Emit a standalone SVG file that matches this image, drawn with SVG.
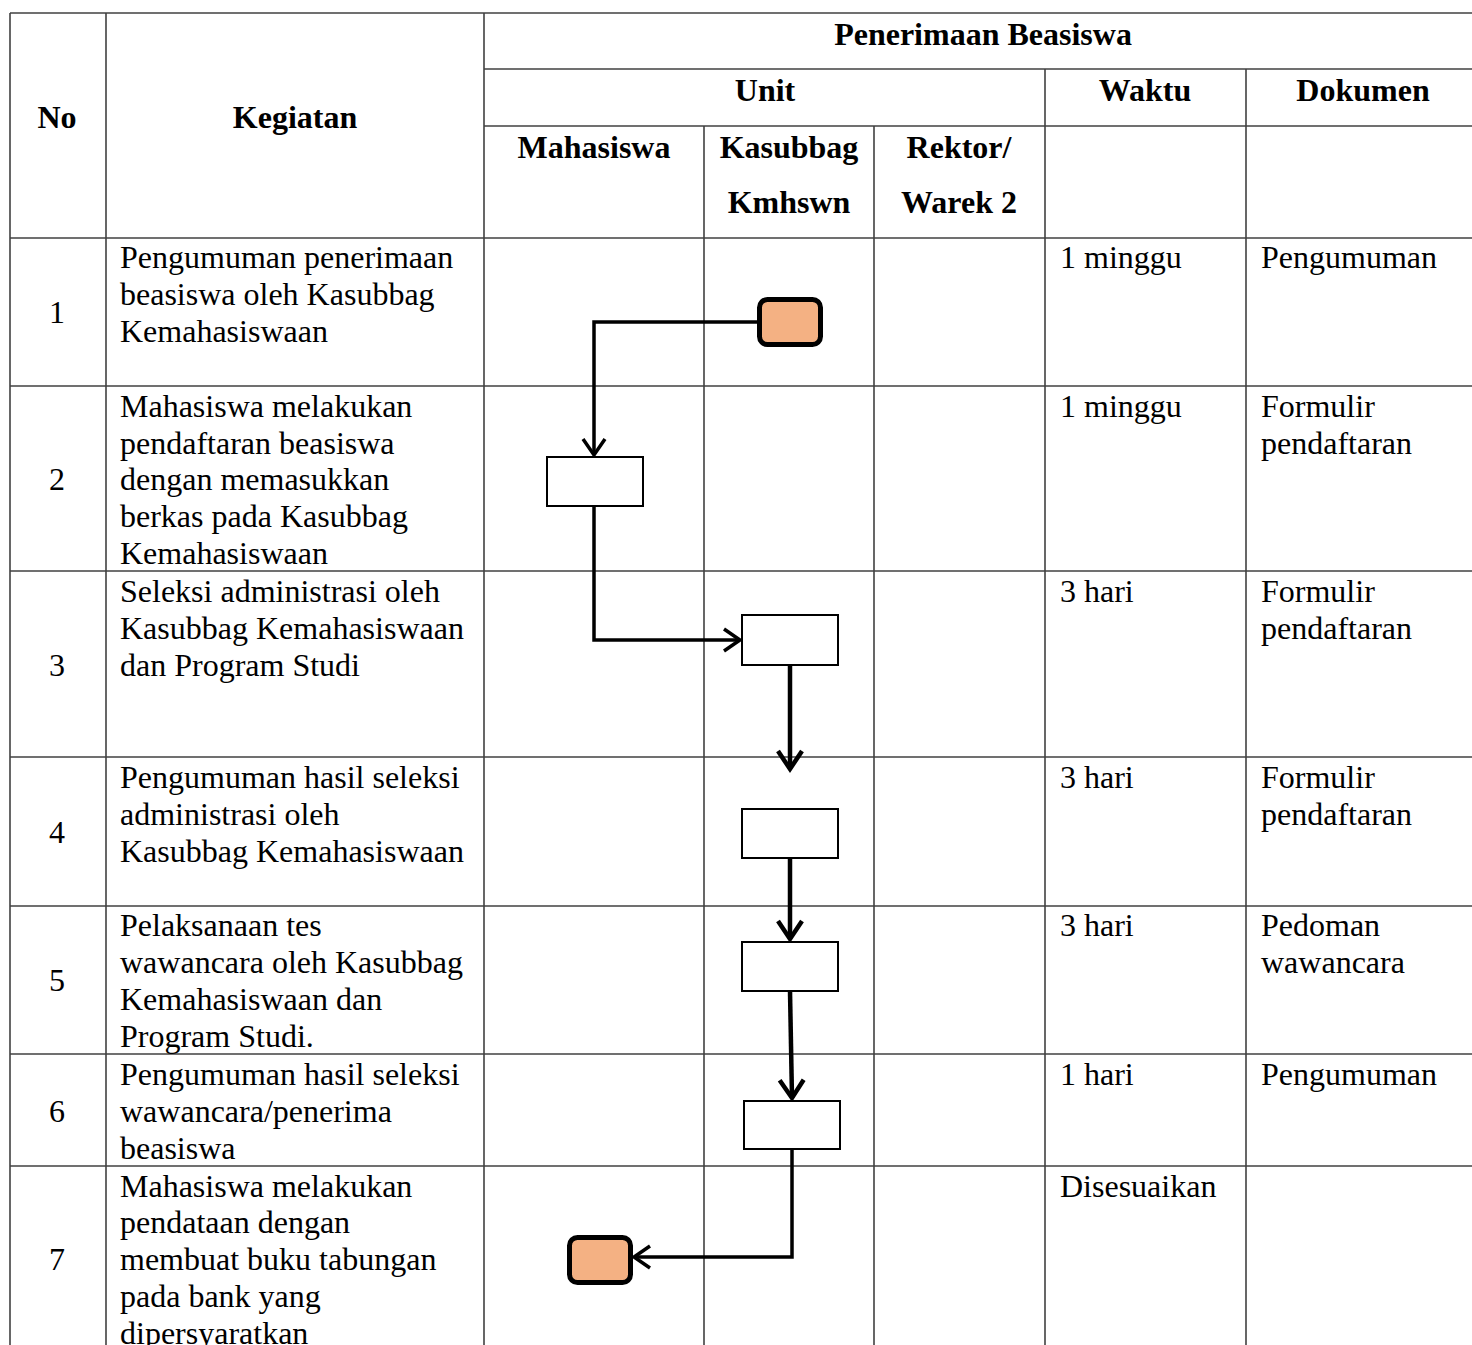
<svg xmlns="http://www.w3.org/2000/svg" width="1472" height="1345" viewBox="0 0 1472 1345">
<style>
.g{stroke:#404040;stroke-width:1.6;fill:none}
.h{font-family:"Liberation Serif","Times New Roman",serif;font-size:32px;font-weight:bold;fill:#000;text-anchor:middle}
.t{font-family:"Liberation Serif","Times New Roman",serif;font-size:32px;fill:#000}
.n{font-family:"Liberation Serif","Times New Roman",serif;font-size:32px;fill:#000;text-anchor:middle}
.box{fill:#fff;stroke:#000;stroke-width:2}
.term{fill:#F4B183;stroke:#000;stroke-width:5}
.c{fill:none;stroke:#000;stroke-width:3.5}
.c2{fill:none;stroke:#000;stroke-width:4.5}
</style>
<defs>
<marker id="ah" markerUnits="userSpaceOnUse" markerWidth="30" markerHeight="30" viewBox="0 0 30 30" refX="24" refY="15" orient="auto">
<path d="M8,4 L24,15 L8,26" fill="none" stroke="#000" stroke-width="3.5"/>
</marker>
<marker id="ah2" markerUnits="userSpaceOnUse" markerWidth="30" markerHeight="30" viewBox="0 0 30 30" refX="24" refY="15" orient="auto">
<path d="M6,3 L24,15 L6,27" fill="none" stroke="#000" stroke-width="4.5"/>
</marker>
</defs>
<rect width="1472" height="1345" fill="#fff"/>
<g id="grid">
<line class="g" x1="10" y1="13" x2="1472" y2="13"/>
<line class="g" x1="484" y1="69" x2="1472" y2="69"/>
<line class="g" x1="484" y1="126" x2="1472" y2="126"/>
<line class="g" x1="10" y1="238" x2="1472" y2="238"/>
<line class="g" x1="10" y1="386" x2="1472" y2="386"/>
<line class="g" x1="10" y1="571" x2="1472" y2="571"/>
<line class="g" x1="10" y1="757" x2="1472" y2="757"/>
<line class="g" x1="10" y1="906" x2="1472" y2="906"/>
<line class="g" x1="10" y1="1054" x2="1472" y2="1054"/>
<line class="g" x1="10" y1="1166" x2="1472" y2="1166"/>
<line class="g" x1="10" y1="13" x2="10" y2="1345"/>
<line class="g" x1="106" y1="13" x2="106" y2="1345"/>
<line class="g" x1="484" y1="13" x2="484" y2="1345"/>
<line class="g" x1="704" y1="126" x2="704" y2="1345"/>
<line class="g" x1="874" y1="126" x2="874" y2="1345"/>
<line class="g" x1="1045" y1="69" x2="1045" y2="1345"/>
<line class="g" x1="1246" y1="69" x2="1246" y2="1345"/>
</g>
<g id="header">
<text class="h" x="57" y="128">No</text>
<text class="h" x="295" y="128">Kegiatan</text>
<text class="h" x="983" y="45">Penerimaan Beasiswa</text>
<text class="h" x="765" y="101">Unit</text>
<text class="h" x="1145" y="101">Waktu</text>
<text class="h" x="1363" y="101">Dokumen</text>
<text class="h" x="594" y="158">Mahasiswa</text>
<text class="h" x="789" y="158">Kasubbag</text>
<text class="h" x="789" y="213">Kmhswn</text>
<text class="h" x="959" y="158">Rektor/</text>
<text class="h" x="959" y="213">Warek 2</text>
</g>
<g id="rows">
<text class="n" x="57" y="323">1</text>
<text class="t" x="120" y="268">Pengumuman penerimaan</text>
<text class="t" x="120" y="305">beasiswa oleh Kasubbag</text>
<text class="t" x="120" y="342">Kemahasiswaan</text>
<text class="t" x="1060" y="268">1 minggu</text>
<text class="t" x="1261" y="268">Pengumuman</text>

<text class="n" x="57" y="490">2</text>
<text class="t" x="120" y="417">Mahasiswa melakukan</text>
<text class="t" x="120" y="454">pendaftaran beasiswa</text>
<text class="t" x="120" y="490">dengan memasukkan</text>
<text class="t" x="120" y="527">berkas pada Kasubbag</text>
<text class="t" x="120" y="564">Kemahasiswaan</text>
<text class="t" x="1060" y="417">1 minggu</text>
<text class="t" x="1261" y="417">Formulir</text>
<text class="t" x="1261" y="454">pendaftaran</text>

<text class="n" x="57" y="676">3</text>
<text class="t" x="120" y="602">Seleksi administrasi oleh</text>
<text class="t" x="120" y="639">Kasubbag Kemahasiswaan</text>
<text class="t" x="120" y="676">dan Program Studi</text>
<text class="t" x="1060" y="602">3 hari</text>
<text class="t" x="1261" y="602">Formulir</text>
<text class="t" x="1261" y="639">pendaftaran</text>

<text class="n" x="57" y="843">4</text>
<text class="t" x="120" y="788">Pengumuman hasil seleksi</text>
<text class="t" x="120" y="825">administrasi oleh</text>
<text class="t" x="120" y="862">Kasubbag Kemahasiswaan</text>
<text class="t" x="1060" y="788">3 hari</text>
<text class="t" x="1261" y="788">Formulir</text>
<text class="t" x="1261" y="825">pendaftaran</text>

<text class="n" x="57" y="991">5</text>
<text class="t" x="120" y="936">Pelaksanaan tes</text>
<text class="t" x="120" y="973">wawancara oleh Kasubbag</text>
<text class="t" x="120" y="1010">Kemahasiswaan dan</text>
<text class="t" x="120" y="1047">Program Studi.</text>
<text class="t" x="1060" y="936">3 hari</text>
<text class="t" x="1261" y="936">Pedoman</text>
<text class="t" x="1261" y="973">wawancara</text>

<text class="n" x="57" y="1122">6</text>
<text class="t" x="120" y="1085">Pengumuman hasil seleksi</text>
<text class="t" x="120" y="1122">wawancara/penerima</text>
<text class="t" x="120" y="1159">beasiswa</text>
<text class="t" x="1060" y="1085">1 hari</text>
<text class="t" x="1261" y="1085">Pengumuman</text>

<text class="n" x="57" y="1270">7</text>
<text class="t" x="120" y="1197">Mahasiswa melakukan</text>
<text class="t" x="120" y="1233">pendataan dengan</text>
<text class="t" x="120" y="1270">membuat buku tabungan</text>
<text class="t" x="120" y="1307">pada bank yang</text>
<text class="t" x="120" y="1344">dipersyaratkan</text>
<text class="t" x="1060" y="1197">Disesuaikan</text>
</g>
<g id="connectors">
<polyline class="c" points="759,322 594,322 594,455" marker-end="url(#ah)"/>
<polyline class="c" points="594,506 594,640 740,640" marker-end="url(#ah)"/>
<line class="c2" x1="790" y1="665" x2="790" y2="769" marker-end="url(#ah2)"/>
<line class="c2" x1="790" y1="858" x2="790" y2="939" marker-end="url(#ah2)"/>
<line class="c2" x1="790" y1="991" x2="792" y2="1098" marker-end="url(#ah2)"/>
<polyline class="c" points="792,1149 792,1257 634,1257" marker-end="url(#ah)"/>
</g>
<g id="node-start"><rect class="term" x="759.5" y="299.5" width="61" height="45" rx="8"/></g>
<g id="node-2"><rect class="box" x="547" y="457" width="96" height="49"/></g>
<g id="node-3"><rect class="box" x="742" y="615" width="96" height="50"/></g>
<g id="node-4"><rect class="box" x="742" y="809" width="96" height="49"/></g>
<g id="node-5"><rect class="box" x="742" y="942" width="96" height="49"/></g>
<g id="node-6"><rect class="box" x="744" y="1101" width="96" height="48"/></g>
<g id="node-end"><rect class="term" x="569.5" y="1237.5" width="61" height="45" rx="8"/></g>
</svg>
